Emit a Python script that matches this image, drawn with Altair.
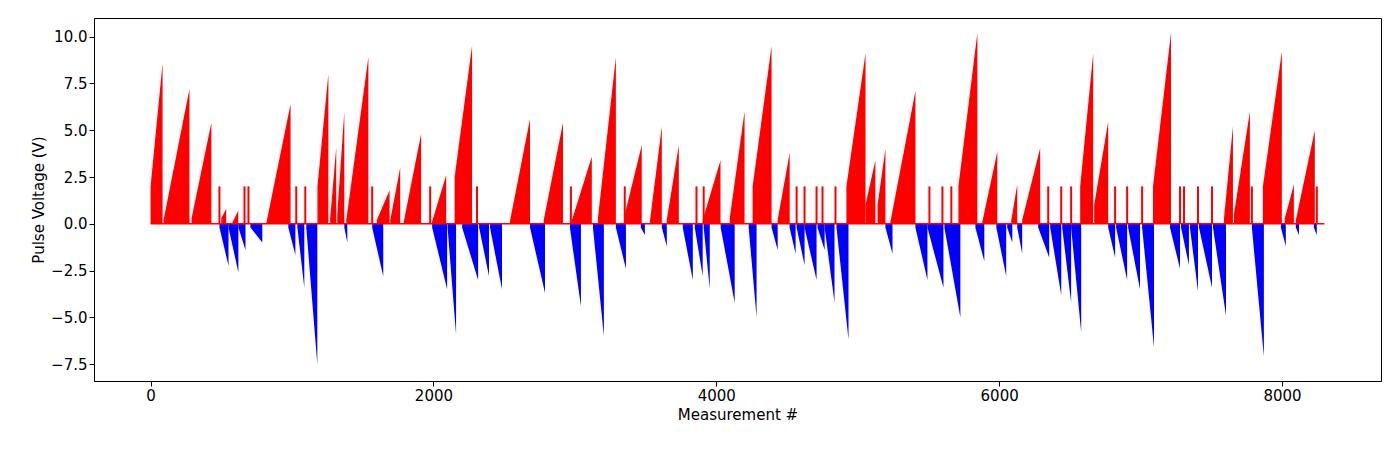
import pandas as pd
import altair as alt

# positive ramps: start measurement, end measurement, value at start, peak value
pos_start = [0, 92, 290, 500, 580, 820, 1180, 1270, 1320, 1384, 1600, 1695, 1790, 1990,
             2150, 2540, 2780, 2980, 3163, 3353, 3530, 3650, 3904, 4095, 4257, 4434,
             4920, 5055, 5140, 5231, 5712, 5881, 6086, 6163, 6573, 6672, 7088, 7590,
             7660, 7865, 8020, 8098]
pos_end = [85, 275, 430, 535, 620, 990, 1257, 1313, 1370, 1540, 1690, 1765, 1913, 2090,
           2273, 2683, 2916, 3120, 3290, 3473, 3615, 3735, 4030, 4200, 4391, 4519,
           5055, 5125, 5196, 5408, 5846, 5987, 6128, 6290, 6665, 6771, 7215, 7653,
           7773, 7999, 8084, 8232]
pos_v0 = [2.0, 0.2, 0.3, 0.3, 0.1, 0.1, 2.0, 0.3, 0.5, 0.2, 0.2, 0.2, 0.1, 0.1,
          2.5, 0.1, 0.2, 0.2, 0.3, 0.5, 0.1, 0.2, 0.2, 0.3, 2.0, 0.2,
          2.0, 1.0, 1.0, 0.1, 2.0, 0.1, 0.2, 0.2, 2.0, 1.0, 2.0, 0.3,
          0.5, 2.0, 0.3, 0.2]
pos_peak = [8.6, 7.2, 5.4, 0.8, 0.7, 6.4, 8.0, 4.1, 6.0, 8.9, 1.8, 3.0, 4.8, 2.6,
            9.5, 5.6, 5.4, 3.6, 8.9, 4.2, 5.2, 4.2, 3.4, 6.0, 9.5, 3.8,
            9.1, 3.4, 4.0, 7.1, 10.2, 3.85, 2.1, 4.05, 9.1, 5.45, 10.2, 5.2,
            6.0, 9.2, 2.1, 5.0]

# negative ramps: start, end, trough
neg_start = [487, 551, 621, 706, 974, 1038, 1101, 1370, 1567, 1991, 2100, 2203, 2323,
             2400, 2683, 2965, 3128, 3290, 3466, 3615, 3763, 3848, 3911, 4031, 4229,
             4391, 4518, 4568, 4624, 4716, 4766, 4850, 5196, 5408, 5493, 5613, 5832,
             5980, 6057, 6128, 6276, 6361, 6446, 6509, 6771, 6827, 6912, 7011, 7208,
             7286, 7349, 7413, 7512, 7787, 7992, 8098, 8225]
neg_end = [551, 621, 671, 790, 1024, 1087, 1179, 1391, 1645, 2097, 2160, 2316, 2393,
           2485, 2789, 3043, 3205, 3361, 3495, 3650, 3834, 3904, 3954, 4130, 4285,
           4434, 4561, 4624, 4709, 4766, 4836, 4935, 5246, 5493, 5606, 5726, 5895,
           6050, 6093, 6163, 6354, 6439, 6509, 6580, 6820, 6905, 6996, 7095, 7279,
           7342, 7406, 7505, 7604, 7872, 8027, 8120, 8246]
neg_trough = [-2.24, -2.6, -1.4, -1.0, -1.66, -3.4, -7.5, -1.0, -2.8, -3.5, -5.9, -3.0, -2.8,
              -3.5, -3.7, -4.4, -6.0, -2.4, -0.6, -1.2, -3.0, -2.8, -3.5, -4.2, -5.0,
              -1.4, -1.6, -2.2, -3.0, -1.4, -4.2, -6.2, -1.6, -3.0, -3.4, -5.0, -2.0,
              -2.8, -1.0, -1.6, -1.8, -3.8, -4.2, -5.8, -1.8, -3.0, -3.5, -6.6, -2.4,
              -2.2, -3.6, -3.4, -4.9, -7.1, -1.2, -0.6, -0.6]

# single pulses at 2.0 V
spike_x = [487, 664, 692, 1030, 1094, 1567, 1977, 2308, 2972, 3353, 3860, 3911,
           4568, 4624, 4709, 4751, 4843, 5507, 5599, 5662, 6347, 6439, 6509,
           6820, 6905, 7011, 7279, 7307, 7406, 7505, 7787, 8246]
spike_v = [2.0] * len(spike_x)

rows = []
for i in range(len(pos_start)):
    rows.append({'id': 'p%d' % i, 'm': pos_start[i], 'v': pos_v0[i], 'sign': 'pos'})
    rows.append({'id': 'p%d' % i, 'm': pos_end[i], 'v': pos_peak[i], 'sign': 'pos'})
for i in range(len(neg_start)):
    rows.append({'id': 'n%d' % i, 'm': neg_start[i], 'v': -0.2, 'sign': 'neg'})
    rows.append({'id': 'n%d' % i, 'm': neg_end[i], 'v': neg_trough[i], 'sign': 'neg'})
df = pd.DataFrame(rows)
df_spike = pd.DataFrame({'m': spike_x, 'v': spike_v})

x_enc = alt.X('m:Q', title='Measurement #', scale=alt.Scale(domain=[-400, 8700], nice=False),
              axis=alt.Axis(values=[0, 2000, 4000, 6000, 8000], format='d', grid=False))
y_enc = alt.Y('v:Q', title='Pulse Voltage (V)', stack=None,
              scale=alt.Scale(domain=[-8.4, 11.0], nice=False),
              axis=alt.Axis(values=[-7.5, -5, -2.5, 0, 2.5, 5, 7.5, 10], format='.1f', grid=False))

ramps = alt.Chart(df).mark_area(interpolate='linear').encode(
    x=x_enc, y=y_enc, detail='id:N',
    color=alt.Color('sign:N', scale=alt.Scale(domain=['pos', 'neg'], range=['red', 'blue']),
                    legend=None),
)

spikes = alt.Chart(df_spike).mark_rule(color='red', strokeWidth=2).encode(
    x='m:Q', y='v:Q', y2=alt.datum(0)
)

base = alt.Chart(pd.DataFrame({'m': [0, 8300], 'v': [0, 0]})).mark_line(color='red', strokeWidth=1.5).encode(
    x='m:Q', y='v:Q'
)

chart = (ramps + spikes + base).properties(
    width=1287, height=363,
    padding={'left': 23, 'top': 10, 'right': 5, 'bottom': 5}
).configure_view(
    stroke='black', strokeWidth=1
).configure_axis(
    labelFont='DejaVu Sans', titleFont='DejaVu Sans', labelFontSize=15, titleFontSize=15,
    titleFontWeight='normal', labelColor='black', titleColor='black',
    domainColor='black', tickColor='black', tickSize=5
)

chart.save('out.html', embed_options={'renderer': 'svg', 'actions': False})
